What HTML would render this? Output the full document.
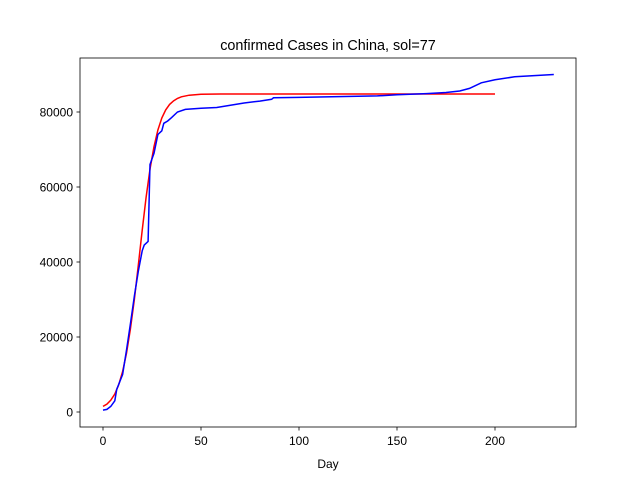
<!DOCTYPE html>
<html><head><meta charset="utf-8"><style>
body{margin:0;background:#fff;}
svg{display:block;font-family:"Liberation Sans","DejaVu Sans",sans-serif;}
</style></head><body>
<svg id="chart" width="640" height="480">
<text x="328" y="50" font-size="14.4" text-anchor="middle">confirmed Cases in China, sol=77</text>
<rect x="80" y="58" width="496" height="369" fill="none" stroke="#000" stroke-width="0.8"/>
<g id="xt"></g>
<g id="yt"></g>
<text x="328" y="468" font-size="12" text-anchor="middle">Day</text>
<path id="fit" fill="none" stroke="#ff0000" stroke-width="1.5"/>
<path id="obs" fill="none" stroke="#0000ff" stroke-width="1.5"/>
</svg>
<script>
const fitDays=[0,2,4,6,8,10,12,14,16,18,20,22,24,26,28,30,32,34,36,38,40,44,50,60,200];
const fitVals=[1500,2100,3150,4800,7250,10770,15670,22130,30090,39110,48460,57260,64780,70760,75210,78390,80570,82040,83000,83640,84050,84490,84720,84790,84800];
const obsDays=[0,2,4,6,7,10,12,14,16,18,20,21,22,23,24,26,28,30,31,33,35,38,42,50,58,65,72,80,86,87,100,140,150,165,175,182,187,193,200,210,220,230];
const obsVals=[500,700,1500,3000,6000,10000,16500,23500,31000,37500,43000,44500,45000,45500,66000,69000,74000,75000,77000,77600,78500,80000,80700,81000,81200,81800,82400,82900,83400,83800,83900,84300,84600,84900,85200,85600,86300,87800,88600,89400,89700,90000];
const xTicks=[0,50,100,150,200];
const yTicks=[0,20000,40000,60000,80000];
const X=d=>103+d*1.96, Y=v=>412-v*0.00375;
const ns="http://www.w3.org/2000/svg";
function line(ds,vs){return ds.map((d,i)=>(i?'L':'M')+X(d).toFixed(1)+','+Y(vs[i]).toFixed(1)).join('');}
document.getElementById('fit').setAttribute('d',line(fitDays,fitVals));
document.getElementById('obs').setAttribute('d',line(obsDays,obsVals));
const xg=document.getElementById('xt'),yg=document.getElementById('yt');
xTicks.forEach(t=>{
 const l=document.createElementNS(ns,'line');
 
 
 l.setAttribute('x1',X(t));l.setAttribute('x2',X(t));l.setAttribute('y1',427);l.setAttribute('y2',430.5);l.setAttribute('stroke','#000');l.setAttribute('stroke-width','0.8');xg.appendChild(l);
 const s=document.createElementNS(ns,'text');
 
 
 s.setAttribute('x',X(t));s.setAttribute('y',445);s.setAttribute('font-size','12');s.setAttribute('text-anchor','middle');s.textContent=t;xg.appendChild(s);
});
yTicks.forEach(t=>{
 const l=document.createElementNS(ns,'line');
 
 
 l.setAttribute('x1',76.5);l.setAttribute('x2',80);l.setAttribute('y1',Y(t));l.setAttribute('y2',Y(t));l.setAttribute('stroke','#000');l.setAttribute('stroke-width','0.8');yg.appendChild(l);
 const s=document.createElementNS(ns,'text');
 
 
 s.setAttribute('x',73);s.setAttribute('y',Y(t)+4.5);s.setAttribute('font-size','12');s.setAttribute('text-anchor','end');s.textContent=t;yg.appendChild(s);
});
</script>
</body></html>
